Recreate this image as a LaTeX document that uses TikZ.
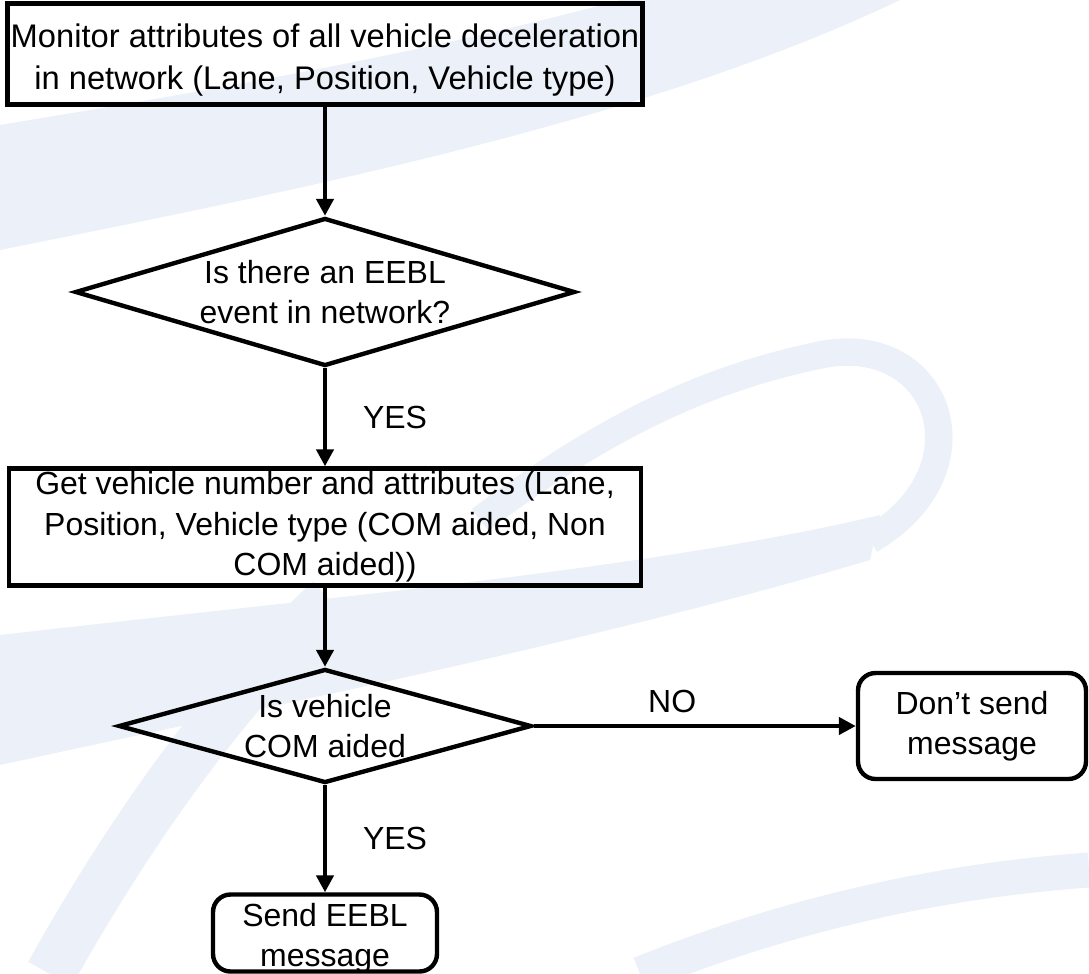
\documentclass[tikz,border=0pt]{standalone}
\usepackage{fontspec}
\setmainfont{Liberation Sans}
\usetikzlibrary{shapes.geometric,arrows.meta}
\definecolor{swoosh}{RGB}{236,241,249}
\begin{document}
\begin{tikzpicture}[x=0.02cm,y=-0.02cm,
	font=\fontsize{18.2}{23}\selectfont,
	box/.style={draw,line width=2.5pt,align=center,inner sep=0pt},
	roundbox/.style={box,rounded corners=0.35cm},
	decision/.style={draw,line width=2.5pt,diamond,inner sep=0pt},
	flow/.style={line width=2.5pt,-{Triangle[length=0.34cm,width=0.34cm]}}]
	\useasboundingbox (0,0) rectangle (1089,974);
	% watermark swooshes
	\fill[swoosh] (0,250) .. controls (300,190) and (650,120) .. (900,0) -- (620,0) .. controls (400,60) and (150,100) .. (0,125) -- cycle;
	\fill[swoosh] (0,635) .. controls (300,600) and (650,570) .. (880,515) -- (870,560) .. controls (600,640) and (300,700) .. (0,765) -- cycle;
	\draw[swoosh,line width=0.55cm] (870,540) .. controls (990,470) and (940,330) .. (820,355) .. controls (700,380) and (600,430) .. (480,520);
	\draw[swoosh,line width=1cm] (50,974) .. controls (130,830) and (230,690) .. (330,600);
	\draw[swoosh,line width=0.7cm] (640,974) .. controls (800,910) and (950,880) .. (1089,870);
	
	\node[box,minimum width=12.7cm,minimum height=2.02cm,label={[align=center,font=\fontsize{18.6}{24}\selectfont,yshift=-0.12cm]center:Monitor attributes of all vehicle deceleration\\in network (Lane, Position, Vehicle type)}] (monitor) at (325,54) {};
	\node[decision,minimum width=10cm,minimum height=2.96cm,label={[align=center]center:Is there an EEBL\\event in network?}] (event) at (325,292) {};
	\node[box,minimum width=12.64cm,minimum height=2.34cm] (getveh) at (325,527) {Get vehicle number and attributes (Lane,\\Position, Vehicle type (COM aided, Non\\COM aided))};
	\node[decision,minimum width=8.26cm,minimum height=2.28cm,label={[align=center]center:Is vehicle\\COM aided}] (comaid) at (325,726) {};
	\node[roundbox,minimum width=4.56cm,minimum height=2.12cm] (nosend) at (972,726) {Don't send\\message};
	\node[roundbox,minimum width=4.48cm,minimum height=1.54cm,label={[align=center,yshift=-0.1cm]center:Send EEBL\\message}] (send) at (325,933) {};
	
	\draw[flow] (monitor) -- (event);
	\draw[flow] (event) -- (getveh) node[midway,right=0.6cm] (yesa) {YES};
	\draw[flow] (getveh) -- (comaid);
	\draw[flow] (comaid) -- (nosend) node[pos=0.43,above=0.1cm] (no) {NO};
	\draw[flow] (comaid) -- (send) node[midway,right=0.6cm] (yesb) {YES};
\end{tikzpicture}
\end{document}
